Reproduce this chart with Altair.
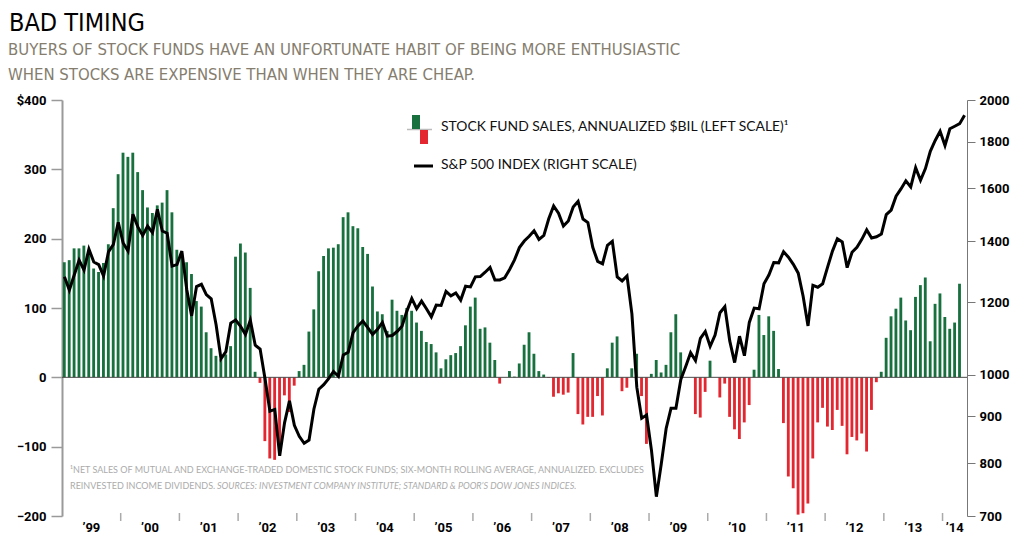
import altair as alt
import pandas as pd

# Net stock fund sales, annualized $bil (monthly, Jan 1999 - Apr 2014)
fund_sales = [
    166, 169, 186, 186, 190, 184, 157, 152, 165, 192, 244, 293,
    324, 318, 324, 296, 270, 245, 237, 248, 252, 270, 238, 184,
    179, 166, 149, 110, 102, 65, 42, 31, 26, 33, 45, 174,
    193, 180, 129, 8, -8, -92, -117, -119, -110, -26, -50, -12,
    9, 18, 66, 98, 153, 175, 186, 187, 192, 231, 238, 218,
    215, 188, 178, 131, 95, 91, 67, 112, 96, 90, 100, 96,
    79, 67, 51, 48, 36, 13, 26, 32, 35, 45, 75, 102,
    115, 70, 72, 50, 25, -9, 0, 9, 1, 20, 47, 65,
    34, 9, 4, -1, -28, -23, -25, -22, 35, -53, -68, -57,
    -57, -27, -55, 13, 50, 59, -20, -15, 13, 34, -27, -96,
    5, 25, 7, 18, 65, 91, 36, 0, 0, -53, -58, -21,
    24, 0, -29, -9, -57, -75, -89, -65, -40, 11, 90, 61,
    88, 67, 12, -66, -143, -160, -198, -196, -182, -117, -65, -44,
    -71, -76, -47, -70, -111, -86, -91, -81, -107, -47, -7, 8,
    57, 88, 99, 115, 82, 68, 116, 133, 144, 52, 106, 121,
    87, 70, 79, 135,
]

# S&P 500 index (monthly, Jan 1999 - May 2014)
sp500 = [
    1280, 1238, 1286, 1335, 1302, 1373, 1329, 1320, 1283, 1363, 1389, 1469,
    1394, 1366, 1499, 1452, 1421, 1455, 1431, 1518, 1437, 1429, 1315, 1320,
    1366, 1240, 1160, 1249, 1256, 1224, 1211, 1134, 1041, 1060, 1139, 1148,
    1130, 1107, 1147, 1077, 1067, 990, 912, 916, 815, 886, 936, 880,
    856, 841, 848, 917, 964, 975, 990, 1008, 996, 1051, 1058, 1112,
    1131, 1145, 1126, 1107, 1121, 1141, 1102, 1104, 1115, 1130, 1174, 1212,
    1181, 1204, 1181, 1157, 1192, 1191, 1234, 1220, 1229, 1207, 1250, 1248,
    1280, 1281, 1295, 1311, 1270, 1270, 1277, 1304, 1336, 1378, 1401, 1418,
    1438, 1407, 1421, 1482, 1531, 1503, 1455, 1474, 1527, 1549, 1481, 1468,
    1379, 1331, 1323, 1386, 1400, 1280, 1267, 1283, 1166, 969, 896, 903,
    826, 735, 798, 873, 919, 919, 988, 1021, 1057, 1036, 1096, 1115,
    1074, 1105, 1169, 1187, 1089, 1031, 1102, 1049, 1141, 1183, 1181, 1258,
    1286, 1327, 1326, 1364, 1345, 1321, 1292, 1219, 1131, 1253, 1247, 1258,
    1312, 1366, 1409, 1398, 1310, 1362, 1379, 1407, 1441, 1412, 1416, 1426,
    1498, 1515, 1569, 1598, 1631, 1606, 1686, 1633, 1682, 1757, 1806, 1848,
    1783, 1860, 1872, 1884, 1924,
]

years = list(range(1999, 2015))
year_labels = ["\u2019" + str(y)[2:] for y in years]

left_ticks = [-200, -100, 0, 100, 200, 300, 400]
right_ticks = [700, 800, 900, 1000, 1200, 1400, 1600, 1800, 2000]

title_text = "BAD TIMING"
subtitle_lines = [
    "BUYERS OF STOCK FUNDS HAVE AN UNFORTUNATE HABIT OF BEING MORE ENTHUSIASTIC",
    "WHEN STOCKS ARE EXPENSIVE THAN WHEN THEY ARE CHEAP.",
]
legend_labels = [
    "STOCK FUND SALES, ANNUALIZED $BIL (LEFT SCALE)\u00b9",
    "S&P 500 INDEX (RIGHT SCALE)",
]
note_line1 = ("\u00b9NET SALES OF MUTUAL AND EXCHANGE-TRADED DOMESTIC STOCK FUNDS; "
              "SIX-MONTH ROLLING AVERAGE, ANNUALIZED. EXCLUDES")
note_line2a = "REINVESTED INCOME DIVIDENDS."
note_line2b = "SOURCES: INVESTMENT COMPANY INSTITUTE; STANDARD & POOR\u2019S DOW JONES INDICES."

GREEN = "#17703d"
RED = "#e3262f"
GRAY = "#9a9a9a"
NARROW = "Liberation Sans Narrow, DejaVu Sans Condensed, sans-serif"
LEG = "Lato, Open Sans, sans-serif"
AXF = "Roboto, Liberation Sans, sans-serif"

N_MONTHS = 185
xscale = alt.Scale(domain=[0, N_MONTHS], nice=False, zero=False)
yleft = alt.Scale(domain=[-200, 400], nice=False, zero=False)
yright = alt.Scale(type="log", domain=[700, 2000], nice=False)

bars_df = pd.DataFrame({"m": range(len(fund_sales)), "sales": fund_sales})
line_df = pd.DataFrame({"m": range(len(sp500)), "sp": sp500})
years_df = pd.DataFrame({"year": years, "lab": year_labels})

left_axis = alt.Axis(
    values=left_ticks, title=None, grid=False,
    labelExpr="datum.value == 400 ? '$400' : datum.label",
    domainColor=GRAY, domainWidth=2, tickColor=GRAY, tickWidth=1.5, tickSize=11,
    labelFont=AXF, labelFontWeight="bold", labelFontSize=13, labelColor="black",
    labelPadding=5,
)
right_axis = alt.Axis(
    values=right_ticks, title=None, grid=False, format="d", orient="right",
    domainColor="#777", domainWidth=1, tickColor="#777", tickWidth=1, tickSize=8,
    labelFont=AXF, labelFontWeight="bold", labelFontSize=13, labelColor="black",
    labelPadding=4,
)

bars = alt.Chart(bars_df).transform_calculate(
    x0="datum.m + 0.18", x1="datum.m + 0.76", zero="0"
).mark_rect().encode(
    x=alt.X("x0:Q", scale=xscale, axis=None),
    x2="x1:Q",
    y=alt.Y("sales:Q", scale=yleft, axis=left_axis),
    y2="zero:Q",
    color=alt.condition("datum.sales < 0", alt.value(RED), alt.value(GREEN)),
)

one = pd.DataFrame({"k": [0]})

zero_rule = alt.Chart(one).mark_rule(color="#4a4a4a", strokeWidth=1).encode(
    y=alt.datum(0)
)

year_ticks = alt.Chart(years_df).transform_filter("datum.year > 1999").transform_calculate(
    b="(datum.year - 1999) * 12"
).mark_rule(color="#aaaaaa", strokeWidth=1.5).encode(
    x=alt.X("b:Q", scale=xscale, axis=None),
    y=alt.value(413), y2=alt.value(421),
)

year_text = alt.Chart(years_df).transform_calculate(
    c=f"min((datum.year - 1999) * 12 + 6, ((datum.year - 1999) * 12 + {N_MONTHS}) / 2)"
).mark_text(font=AXF, fontWeight="bold", fontSize=13, color="black", baseline="middle").encode(
    x=alt.X("c:Q", scale=xscale, axis=None),
    y=alt.value(428),
    text="lab:N",
)


def txt(s, x, y, **kw):
    return alt.Chart(pd.DataFrame({"t": [s]})).mark_text(align="left", **kw).encode(
        text="t:N", x=alt.value(x), y=alt.value(y)
    )


title = txt(title_text, -53, -69, font=NARROW, fontSize=25, color="black", baseline="alphabetic")
sub1 = txt(subtitle_lines[0], -54, -45, font=NARROW, fontSize=16.6, color="#857d6e",
           baseline="alphabetic", fontWeight=500)
sub2 = txt(subtitle_lines[1], -54, -20, font=NARROW, fontSize=16.6, color="#857d6e",
           baseline="alphabetic", fontWeight=500)

leg1 = txt(legend_labels[0], 379, 27, font=LEG, fontSize=13.9, color="#111", baseline="middle")
leg2 = txt(legend_labels[1], 379, 65, font=LEG, fontSize=13.9, color="#111", baseline="middle")

leg_green = alt.Chart(one).mark_rect(color=GREEN).encode(
    x=alt.value(350), x2=alt.value(358), y=alt.value(15), y2=alt.value(29)
)
leg_red = alt.Chart(one).mark_rect(color=RED).encode(
    x=alt.value(358), x2=alt.value(366), y=alt.value(30), y2=alt.value(44)
)
leg_base = alt.Chart(one).mark_rule(color="#bbbbbb", strokeWidth=1.5).encode(
    x=alt.value(345), x2=alt.value(370), y=alt.value(29.5)
)
leg_line = alt.Chart(one).mark_rule(color="black", strokeWidth=3).encode(
    x=alt.value(352), x2=alt.value(371), y=alt.value(66)
)

note1 = txt(note_line1, 8, 370, font=LEG, fontSize=9, color="#ababab", baseline="middle")
note2a = txt(note_line2a, 8, 386, font=LEG, fontSize=9, color="#ababab", baseline="middle")
note2b = txt(note_line2b, 155, 386, font=LEG, fontSize=9, color="#ababab", baseline="middle",
             fontStyle="italic")

left = alt.layer(
    bars, zero_rule, year_ticks, year_text,
    title, sub1, sub2,
    leg_base, leg_green, leg_red, leg_line, leg1, leg2,
    note1, note2a, note2b,
)

line = alt.Chart(line_df).transform_calculate(xm="datum.m + 0.5").mark_line(
    color="black", strokeWidth=3, strokeJoin="miter"
).encode(
    x=alt.X("xm:Q", scale=xscale, axis=None),
    y=alt.Y("sp:Q", scale=yright, axis=right_axis),
)

chart = alt.layer(left, line).resolve_scale(y="independent").properties(
    width=905, height=416,
    autosize=alt.AutoSizeParams(type="none"),
    padding={"left": 54, "top": 92, "right": 45, "bottom": 30},
    background="white",
).configure_view(stroke=None)

chart.save("out.html", embed_options={"renderer": "svg", "actions": False})
